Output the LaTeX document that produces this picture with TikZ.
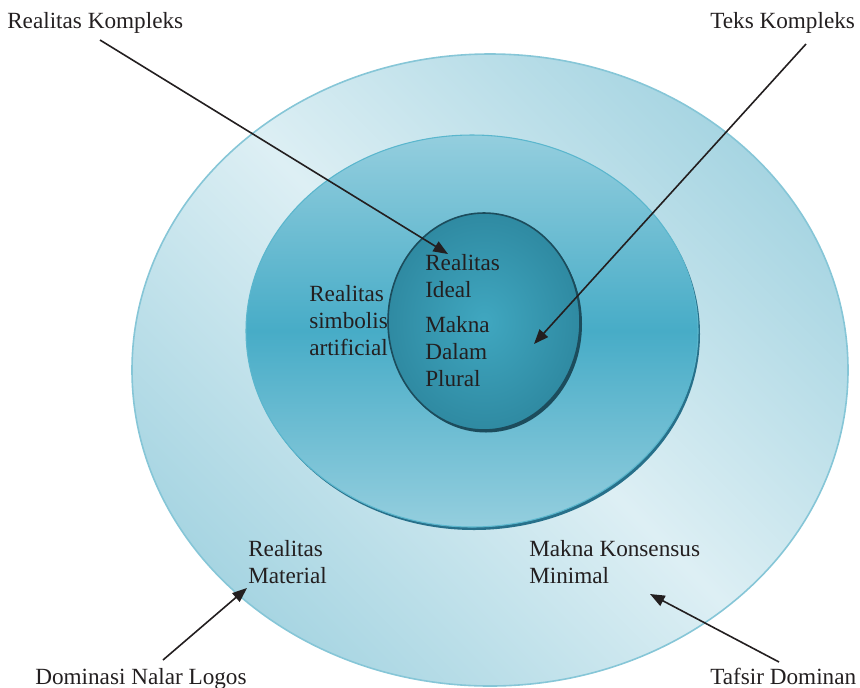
\documentclass[tikz,border=0pt]{standalone}
\usepackage{fontspec}
\setmainfont{Liberation Serif}
\usetikzlibrary{arrows.meta}
\definecolor{txt}{HTML}{231F20}
\definecolor{outerlight}{HTML}{DDEFF4}
\definecolor{outerdark}{HTML}{A7D5E2}
\definecolor{outeredge}{HTML}{86C6D7}
\definecolor{midtop}{HTML}{94CEDE}
\definecolor{midcore}{HTML}{47ACC7}
\definecolor{midedge}{HTML}{5AB6CD}
\definecolor{midshadow}{HTML}{27708A}
\definecolor{innercore}{HTML}{40A7C0}
\definecolor{innerrim}{HTML}{2F8AA2}
\definecolor{inneredge}{HTML}{1C4C5C}
\begin{document}
\begin{tikzpicture}[x=0.75pt,y=-0.75pt,
  lbl/.style={font=\fontsize{17.4}{20.2}\selectfont, text=txt, inner sep=0pt,
    anchor=base west, align=left},
  ptr/.style={draw=txt, line width=1.2pt, -{Triangle[length=11pt,width=8.5pt]}}]
\useasboundingbox (0,0) rectangle (860,687);

% outer ring
\shade[top color=outerdark, bottom color=outerdark, middle color=outerlight,
  shading angle=-45] (490,370) ellipse [x radius=358, y radius=316];
\draw[outeredge, line width=1.2pt] (490,370) ellipse [x radius=358, y radius=316];

% middle ring with its shadow
\fill[midshadow] (474,334) ellipse [x radius=226, y radius=196];
\shade[top color=midtop, bottom color=midtop, middle color=midcore]
  (472,331) ellipse [x radius=226, y radius=196];
\draw[midedge, line width=0.8pt] (472,331) ellipse [x radius=226, y radius=196];

% inner core
\fill[inneredge] (486,324) ellipse [x radius=96, y radius=108.5];
\shade[inner color=innercore, outer color=innerrim]
  (484,321.5) ellipse [x radius=96, y radius=108.5];
\draw[inneredge, line width=1.2pt] (484,321.5) ellipse [x radius=96, y radius=108.5];

% labels (multi-line labels sit on the baseline of their last line)
\node[lbl] (rk) at (7,28) {Realitas Kompleks};
\node[lbl] (tk) at (710,28) {Teks Kompleks};
\node[lbl] (dnl) at (35,684) {Dominasi Nalar Logos};
\node[lbl] (td) at (710,684) {Tafsir Dominan};
\node[lbl] (rm) at (248,583) {Realitas\\Material};
\node[lbl] (mkm) at (529,583) {Makna Konsensus\\Minimal};
\node[lbl] (rsa) at (309,355) {Realitas\\simbolis\\artificial};
\node[lbl] (ri) at (425,297) {Realitas\\Ideal};
\node[lbl] (mdp) at (425,386) {Makna\\Dalam\\Plural};

% pointer ends
\coordinate (rkS) at (100,40);
\coordinate (rkE) at (448,254);
\coordinate (tkS) at (806,44);
\coordinate (tkE) at (534,344);
\coordinate (dnlS) at (163,660);
\coordinate (dnlE) at (247,588);
\coordinate (tdS) at (779,662);
\coordinate (tdE) at (650,594);

\draw[ptr] (rkS) -- (rkE);
\draw[ptr] (tkS) -- (tkE);
\draw[ptr] (dnlS) -- (dnlE);
\draw[ptr] (tdS) -- (tdE);
\end{tikzpicture}
\end{document}
